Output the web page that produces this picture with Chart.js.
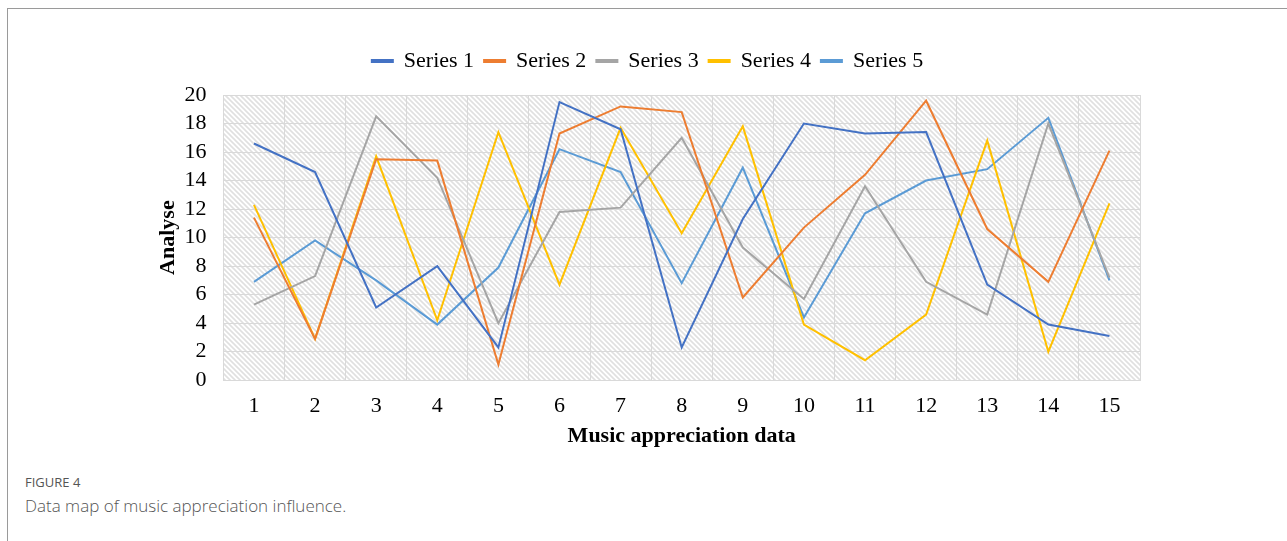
<!DOCTYPE html>
<html>
<head>
<meta charset="utf-8">
<script src="https://cdn.jsdelivr.net/npm/chart.js@4"></script>
<style>
  body { margin: 0; background: #fff; width: 1287px; height: 541px; overflow: hidden; position: relative; }
  .frame { position: absolute; left: 7px; top: 8px; right: -2px; bottom: -2px; border-top: 1px solid #9a9a9a; border-left: 1px solid #9a9a9a; }
  .chart-box { position: absolute; left: 140px; top: 40px; width: 1020px; height: 410px; }
  .fig { position: absolute; left: 25px; top: 473px; font-family: "Open Sans", sans-serif; font-size: 13px; color: #555; }
  .cap { position: absolute; left: 25px; top: 494px; font-family: "Open Sans", sans-serif; font-size: 17px; font-weight: 300; color: #555; }
</style>
</head>
<body>
<div class="frame"></div>
<div class="chart-box"><canvas id="chart" width="1020" height="410"></canvas></div>
<div class="fig">FIGURE 4</div>
<div class="cap">Data map of music appreciation influence.</div>
<script>
const categories = ["1", "2", "3", "4", "5", "6", "7", "8", "9", "10", "11", "12", "13", "14", "15"];
const series1 = [16.6, 14.6, 5.1, 8.0, 2.3, 19.5, 17.6, 2.3, 11.3, 18.0, 17.3, 17.4, 6.7, 3.9, 3.1];
const series2 = [11.4, 2.9, 15.5, 15.4, 1.1, 17.3, 19.2, 18.8, 5.8, 10.7, 14.4, 19.6, 10.6, 6.9, 16.1];
const series3 = [5.3, 7.3, 18.5, 14.2, 4.0, 11.8, 12.1, 17.0, 9.3, 5.7, 13.6, 6.9, 4.6, 18.0, 7.2];
const series4 = [12.3, 2.9, 15.7, 4.2, 17.4, 6.7, 17.7, 10.3, 17.8, 3.9, 1.4, 4.6, 16.8, 2.0, 12.4];
const series5 = [6.9, 9.8, 7.0, 3.9, 7.9, 16.2, 14.6, 6.8, 14.9, 4.4, 11.7, 14.0, 14.8, 18.4, 7.0];
const seriesNames = ["Series 1", "Series 2", "Series 3", "Series 4", "Series 5"];
const seriesColors = ["#4472C4", "#ED7D31", "#A5A5A5", "#FFC000", "#5B9BD5"];

// small tile with a "\" stripe, repeated over the plot area
function makeHatch() {
  const c = document.createElement("canvas");
  c.width = 5; c.height = 5;
  const g = c.getContext("2d");
  g.fillStyle = "#ffffff";
  g.fillRect(0, 0, 5, 5);
  g.strokeStyle = "#e0e0e0";
  g.lineWidth = 1.6;
  g.beginPath();
  g.moveTo(-1, -1); g.lineTo(6, 6);
  g.moveTo(-1, 4); g.lineTo(1, 6);
  g.moveTo(4, -1); g.lineTo(6, 1);
  g.stroke();
  return c;
}

const hatchPlugin = {
  id: "hatch",
  beforeDraw(chart) {
    const { ctx, chartArea: a } = chart;
    ctx.save();
    ctx.fillStyle = ctx.createPattern(makeHatch(), "repeat");
    ctx.fillRect(a.left, a.top, a.right - a.left, a.bottom - a.top);
    ctx.restore();
  }
};

// more room under the legend
const legendGap = {
  id: "legendGap",
  beforeInit(chart) {
    const fit = chart.legend.fit;
    chart.legend.fit = function () {
      fit.call(this);
      this.height += 13;
    };
  }
};

const data = [series1, series2, series3, series4, series5];

new Chart(document.getElementById("chart"), {
  type: "line",
  data: {
    labels: categories,
    datasets: data.map((vals, i) => ({
      label: seriesNames[i],
      data: vals,
      borderColor: seriesColors[i],
      backgroundColor: seriesColors[i],
      borderWidth: 2,
      pointRadius: 0,
      tension: 0
    }))
  },
  plugins: [hatchPlugin, legendGap],
  options: {
    responsive: false,
    animation: false,
    devicePixelRatio: 1,
    layout: { padding: { left: 15, right: 20, top: 0, bottom: 0 } },
    plugins: {
      legend: {
        position: "top",
        labels: {
          boxWidth: 21,
          boxHeight: 2,
          padding: 10,
          color: "#000",
          font: { family: "Liberation Serif", size: 22 }
        }
      },
      tooltip: { enabled: false }
    },
    scales: {
      x: {
        offset: true,
        grid: { offset: true, color: "#d9d9d9", drawTicks: false },
        border: { color: "#d9d9d9" },
        ticks: { color: "#000", padding: 13, maxRotation: 0, autoSkip: false, font: { family: "Liberation Serif", size: 22 } },
        title: { display: true, text: "Music appreciation data", color: "#000", padding: { top: -9, bottom: 0 }, font: { family: "Liberation Serif", size: 22, weight: "bold" } }
      },
      y: {
        min: 0,
        max: 20,
        ticks: { stepSize: 2, autoSkip: false, color: "#000", padding: 17, font: { family: "Liberation Serif", size: 22 } },
        grid: { color: "#d9d9d9", drawTicks: false },
        border: { color: "#d9d9d9" },
        title: { display: true, text: "Analyse", color: "#000", padding: { top: 0, bottom: -14 }, font: { family: "Liberation Serif", size: 22, weight: "bold" } }
      }
    }
  }
});
</script>
</body>
</html>
